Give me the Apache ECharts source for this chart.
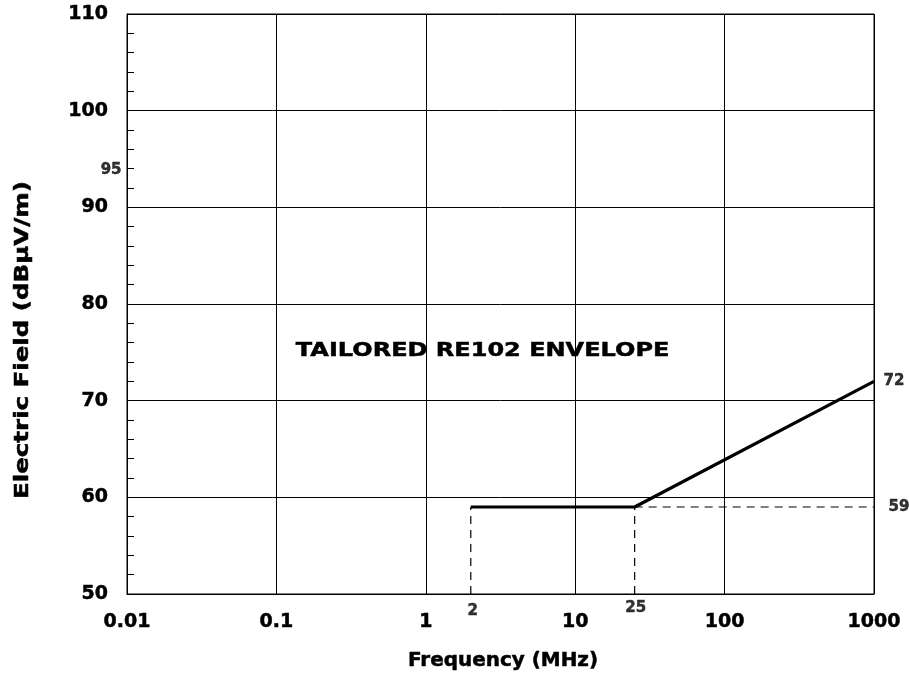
<!DOCTYPE html>
<html><head><meta charset="utf-8">
<script src="https://cdn.jsdelivr.net/npm/echarts@6/dist/echarts.min.js"></script>
<style>html,body{margin:0;padding:0;background:#fff}#c{width:909px;height:675px}</style>
</head><body><div id="c"></div>
<script>
// ---- data ----
const xTicks = [0.01, 0.1, 1, 10, 100, 1000];
const yTicks = [50, 60, 70, 80, 90, 100, 110];
const envelopeFreq = [2, 25, 1000];
const envelopeLevel = [59, 59, 72];
const cornerFreq = [2, 25];
const floorLevel = 50;
const plateauLevel = 59;
const endLevel = 72;
const freqMarkLabels = ['2', '25'];
const levelMarkLabels = ['59', '72'];
const extraYLabel = '95';
const extraYValue = 95;
const annotationText = 'TAILORED RE102 ENVELOPE';
const annotationPos = [2.4, 75.2];
const xTitle = 'Frequency (MHz)';
const yTitle = 'Electric Field (dB\u00B5V/m)';

const FF = 'DejaVu Sans';
const chart = echarts.init(document.getElementById('c'), null, {renderer: 'canvas'});

const envelope = envelopeFreq.map((f, i) => [f, envelopeLevel[i]]);
const guides = [
  [[cornerFreq[0], floorLevel], [cornerFreq[0], plateauLevel]],
  [[cornerFreq[1], floorLevel], [cornerFreq[1], plateauLevel]],
  [[cornerFreq[1], plateauLevel], [xTicks[xTicks.length - 1], plateauLevel]]
];
const heavy = {textBorderColor: '#000', textBorderWidth: 0.5};
const smallLabel = Object.assign({show: true, fontFamily: FF, fontWeight: 'bold', fontSize: 15, color: '#000'}, heavy);
const markData = [
  {value: [cornerFreq[0], floorLevel], label: Object.assign({}, smallLabel, {position: 'bottom', distance: 9, offset: [2, 0], formatter: freqMarkLabels[0]})},
  {value: [cornerFreq[1], floorLevel], label: Object.assign({}, smallLabel, {position: 'bottom', distance: 6, offset: [1, 0], formatter: freqMarkLabels[1]})},
  {value: [xTicks[xTicks.length - 1], plateauLevel], label: Object.assign({}, smallLabel, {position: 'right', distance: 14, formatter: levelMarkLabels[0]})},
  {value: [xTicks[xTicks.length - 1], endLevel], label: Object.assign({}, smallLabel, {position: 'right', distance: 9, formatter: levelMarkLabels[1]})},
  {value: [xTicks[0], extraYValue], label: Object.assign({}, smallLabel, {position: 'left', distance: 5, offset: [0, 11], formatter: extraYLabel})}
];

const option = {
  animation: false,
  backgroundColor: '#fff',
  grid: {left: 127, right: 35, top: 14, bottom: 81, show: true, borderColor: '#000', borderWidth: 1},
  xAxis: {
    type: 'log', logBase: 10, min: xTicks[0], max: xTicks[xTicks.length - 1],
    axisLine: {show: true, lineStyle: {color: '#000', width: 1}},
    axisTick: {show: false},
    splitLine: {show: true, lineStyle: {color: '#000', width: 1}},
    axisLabel: Object.assign({
      fontFamily: FF, fontWeight: 'bold', fontSize: 19, color: '#000', margin: 19,
      formatter: v => String(parseFloat(Number(v).toPrecision(3)))
    }, heavy)
  },
  yAxis: {
    type: 'value', min: yTicks[0], max: yTicks[yTicks.length - 1], interval: 10,
    axisLine: {show: true, lineStyle: {color: '#000', width: 1}},
    axisTick: {show: true, inside: true, length: 7, lineStyle: {color: '#000'}},
    minorTick: {show: true, splitNumber: 5, length: 7, lineStyle: {color: '#000', width: 1}},
    splitLine: {show: true, lineStyle: {color: '#000', width: 1}},
    axisLabel: Object.assign({fontFamily: FF, fontWeight: 'bold', fontSize: 19, color: '#000', margin: 19}, heavy)
  },
  series: [
    ...guides.map(g => ({
      type: 'line', data: g, symbol: 'none', silent: true, clip: false,
      lineStyle: {color: '#000', width: 1.2, type: [8, 6]}
    })),
    {
      type: 'line', data: envelope, symbol: 'none', silent: true,
      lineStyle: {color: '#000', width: 3.2}
    },
    {
      type: 'scatter', data: markData, symbolSize: 1, silent: true,
      itemStyle: {color: 'rgba(0,0,0,0)'}
    }
  ]
};
chart.setOption(option);

const ap = chart.convertToPixel({gridIndex: 0}, annotationPos);
const txtStyle = {fontFamily: FF, fontWeight: 'bold', fill: '#000', stroke: '#000', lineWidth: 0.5,
  align: 'center', verticalAlign: 'middle', textAlign: 'center', textVerticalAlign: 'middle'};
chart.setOption({
  graphic: [
    {
      type: 'text', x: ap[0], y: ap[1], scaleX: 1.2, silent: true,
      style: Object.assign({text: annotationText, fontSize: 20}, txtStyle)
    },
    {
      type: 'text', x: 503, y: 661, scaleX: 1.05, silent: true,
      style: Object.assign({text: xTitle, fontSize: 19}, txtStyle)
    },
    {
      type: 'text', x: 23, y: 340, rotation: Math.PI / 2, scaleX: 1.29, silent: true,
      style: Object.assign({text: yTitle, fontSize: 19}, txtStyle)
    }
  ]
});
</script>
</body></html>
